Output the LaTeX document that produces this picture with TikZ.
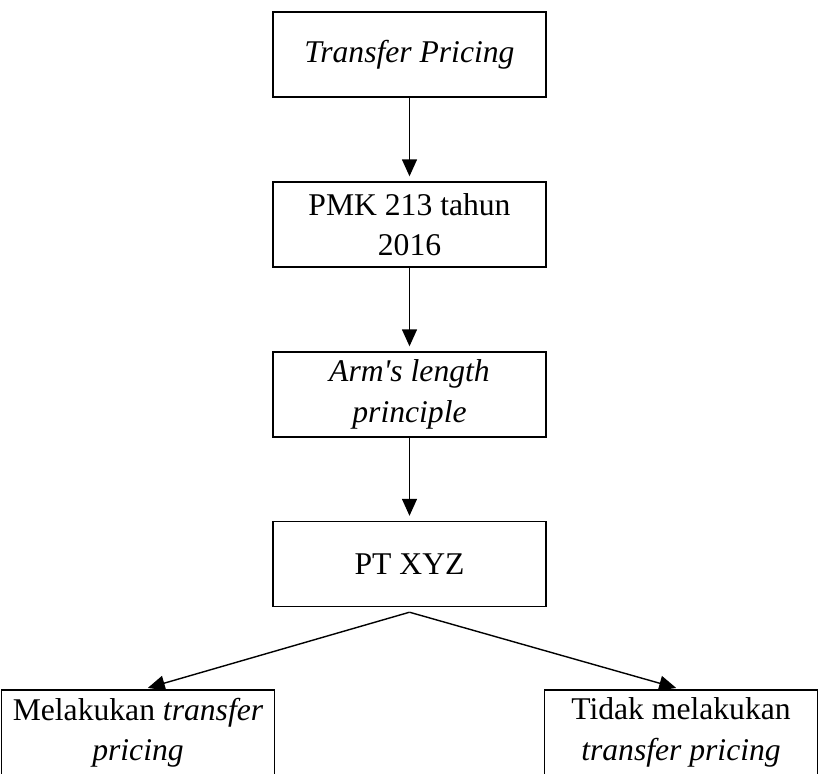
\documentclass[tikz,border=0pt]{standalone}
\usepackage{fontspec}
\setmainfont{Liberation Serif}
\usetikzlibrary{arrows.meta}
\tikzset{
	flowbox/.style={draw, line width=0.8pt, minimum width=5.46cm, minimum height=1.7cm, inner sep=0.1cm, align=center, font=\fontsize{18}{23}\selectfont},
	flowarrow/.style={line width=0.8pt, -{Triangle[length=0.34cm,width=0.3cm]}, shorten >=0.1cm}
}

\begin{document}
\begin{tikzpicture}
		%%%%% START %%%%%
		\useasboundingbox (0, 0) rectangle (16.4, -15.46);
		
		\node[flowbox] (tp) at (8.19, -1.09) {\textit{Transfer Pricing}};
		\node[flowbox] (pmk) at (8.19, -4.49) {PMK 213 tahun\\2016};
		\node[flowbox] (alp) at (8.19, -7.89) {\textit{Arm\textquotesingle s length}\\\textit{principle}};
		\node[flowbox] (pt) at (8.19, -11.28) {PT XYZ};
		
		\node[flowbox] (ya) at (2.76, -14.65) {Melakukan \textit{transfer}\\\textit{pricing}};
		\node[flowbox] (tidak) at (13.62, -14.65) {Tidak melakukan\\\textit{transfer pricing}};
		
		\draw[flowarrow] (tp) -- (pmk);
		\draw[flowarrow] (pmk) -- (alp);
		\draw[flowarrow] (alp) -- (pt);
		
		\coordinate (split) at ([yshift=-0.1cm]pt.south);
		\draw[flowarrow] (split) -- ([xshift=0.1cm]ya.north);
		\draw[flowarrow] (split) -- (tidak.north);
		
		%%%%% END %%%%%
	\end{tikzpicture}
\end{document}
